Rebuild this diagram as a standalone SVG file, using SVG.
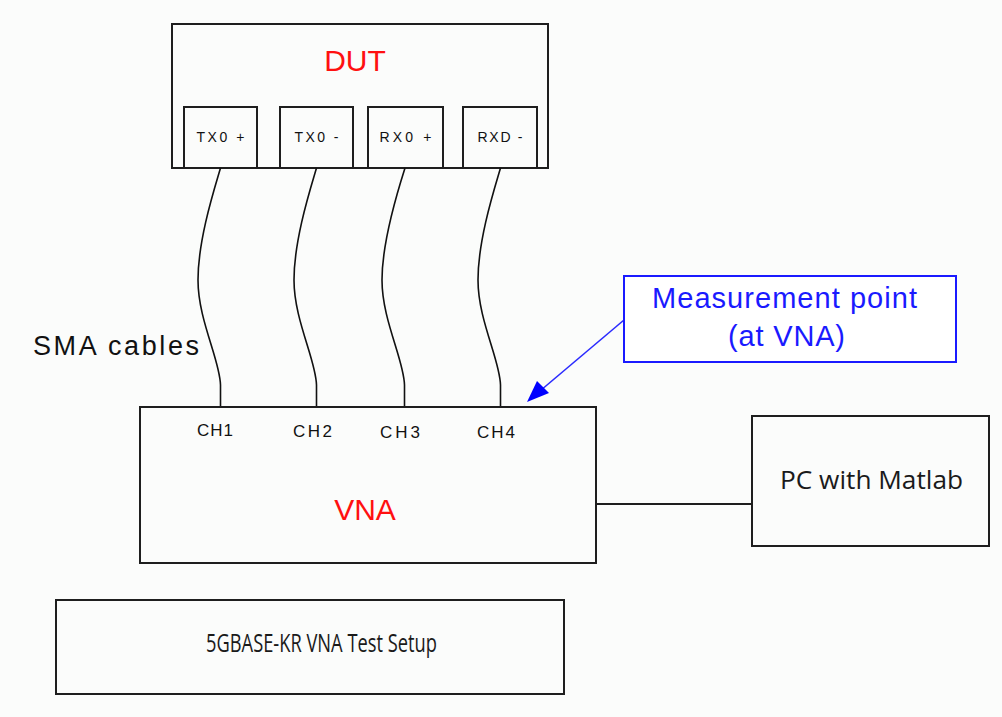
<svg xmlns="http://www.w3.org/2000/svg" width="1002" height="717" viewBox="0 0 1002 717">
<style>
.box{fill:none;stroke:#1e1e1e;stroke-width:2}
.cable{fill:none;stroke:#111;stroke-width:1.6}
.px{font-family:"Liberation Sans",Arial,sans-serif;fill:#111}
.red{font-family:"Liberation Sans",Arial,sans-serif;fill:#ff1010;font-size:30px;text-anchor:middle}
.blue{font-family:"Liberation Sans",Arial,sans-serif;fill:#1a1aff;font-size:29px;text-anchor:middle}
.cal{font-family:"Open Sans","Noto Sans",sans-serif;fill:#1a1a1a;text-anchor:middle}
</style>
<rect x="0" y="0" width="1002" height="717" fill="#fbfcfb"/>
<g id="dut">
<rect class="box" x="172" y="24" width="376" height="144" fill="#fdfdfd"/>
<text class="red" x="355" y="71">DUT</text>
</g>
<g id="tx0p"><rect class="box" x="184" y="107" width="73" height="61"/><text class="px" x="220.5" y="142" font-size="14" text-anchor="middle" textLength="48">TX0 +</text></g>
<g id="tx0n"><rect class="box" x="280" y="107" width="73" height="61"/><text class="px" x="316.5" y="142" font-size="14" text-anchor="middle" textLength="44">TX0 -</text></g>
<g id="rx0p"><rect class="box" x="368" y="107" width="75" height="61"/><text class="px" x="405.5" y="142" font-size="14" text-anchor="middle" textLength="52">RX0 +</text></g>
<g id="rx0n"><rect class="box" x="463" y="107" width="74" height="61"/><text class="px" x="500" y="142" font-size="14" text-anchor="middle" textLength="45">RXD -</text></g>
<g id="connectors">
<path class="cable" d="M220.5,168 C214,190 198,240 198,280 C198,320 220,360 220.5,385 L220.5,407"/>
<path class="cable" d="M316.5,168 C310,190 294,240 294,280 C294,320 316,360 316.5,385 L316.5,407"/>
<path class="cable" d="M405,168 C398,190 382,240 382,280 C382,320 404,360 404.5,385 L404.5,407"/>
<path class="cable" d="M500.5,168 C494,190 478,240 478,280 C478,320 500,360 500.5,385 L500.5,407"/>
<line x1="596" y1="504" x2="752" y2="504" stroke="#1e1e1e" stroke-width="2"/>
<line x1="624" y1="320" x2="534" y2="396" stroke="#2a2aff" stroke-width="1.6"/>
<path d="M527,402 L537,381 L549,393 z" fill="#0000ff"/>
</g>
<g id="sma"><text class="px" x="33" y="355" font-size="27" textLength="166" fill="#222">SMA cables</text></g>
<g id="measure">
<rect x="624" y="276" width="332" height="86" fill="#fff" stroke="#1a1aff" stroke-width="2"/>
<text class="blue" x="784.5" y="308" textLength="265">Measurement point</text>
<text class="blue" x="786.5" y="346" textLength="117">(at VNA)</text>
</g>
<g id="vna">
<rect class="box" x="140" y="407" width="456" height="156" fill="#fdfdfd"/>
<text class="px" x="215" y="436" font-size="17" text-anchor="middle" textLength="36">CH1</text>
<text class="px" x="312.5" y="437" font-size="17" text-anchor="middle" textLength="39">CH2</text>
<text class="px" x="400" y="438" font-size="17" text-anchor="middle" textLength="40">CH3</text>
<text class="px" x="496" y="438" font-size="17" text-anchor="middle" textLength="38">CH4</text>
<text class="red" x="365" y="520">VNA</text>
</g>
<g id="pc">
<rect class="box" x="752" y="416" width="237" height="130" fill="#fdfdfd"/>
<text class="cal" x="871.5" y="489" font-size="25" textLength="183" lengthAdjust="spacingAndGlyphs">PC with Matlab</text>
</g>
<g id="title">
<rect class="box" x="56" y="600" width="508" height="94" fill="#fdfdfd"/>
<text class="cal" x="321.5" y="652" font-size="26" textLength="231" lengthAdjust="spacingAndGlyphs">5GBASE-KR VNA Test Setup</text>
</g>
</svg>
